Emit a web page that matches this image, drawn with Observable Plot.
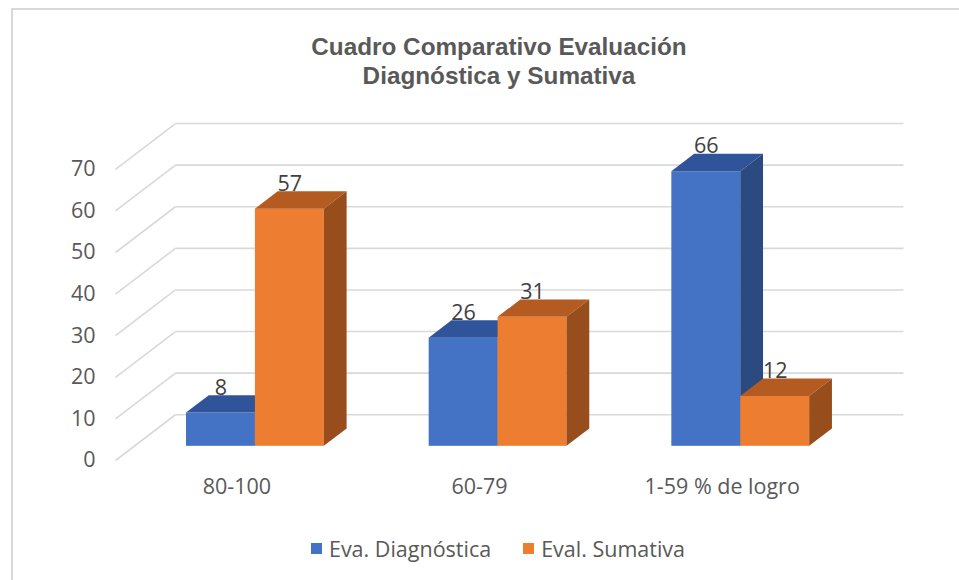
<!DOCTYPE html>
<html>
<head>
<meta charset="utf-8">
<script src="https://cdn.jsdelivr.net/npm/d3@7"></script>
<script src="https://cdn.jsdelivr.net/npm/@observablehq/plot@0.6"></script>
<style>
  body { margin: 0; background: #fff; }
  #wrap { position: relative; width: 959px; height: 580px; overflow: hidden; background: #fff; font-family: "Open Sans", sans-serif; }
  #frame { position: absolute; left: 11px; top: 8px; right: -10px; bottom: -10px; border-top: 2px solid #d9d9d9; border-left: 2px solid #d9d9d9; }
  #title { position: absolute; left: 40px; width: 918px; top: 32px; text-align: center; font-family: "Liberation Sans", Arial, sans-serif; font-weight: bold; font-size: 24.3px; line-height: 29px; color: #595959; }
  #chart { position: absolute; left: 0; top: 110px; }
  #legend { position: absolute; left: 0; width: 996px; top: 534px; height: 28px; display: flex; justify-content: center; align-items: center; gap: 32px; font-size: 21.5px; color: #595959; }
  .item { display: flex; align-items: center; gap: 7px; }
  .sw { width: 11px; height: 11px; display: inline-block; }
</style>
</head>
<body>
<div id="wrap">
  <div id="frame"></div>
  <div id="title">Cuadro Comparativo Evaluación<br>Diagnóstica y Sumativa</div>
  <div id="chart"></div>
  <div id="legend"></div>
</div>
<script>
// ---- data ----
const categories = ["80-100", "60-79", "1-59 % de logro"];
const seriesNames = ["Eva. Diagnóstica", "Eval. Sumativa"];
const diagnostica = [8, 26, 66];
const sumativa = [57, 31, 12];
const yTicks = [0, 10, 20, 30, 40, 50, 60, 70];

// ---- styling ----
const frontColors = ["#4472C4", "#ED7D31"];
const topColors = ["#30549A", "#B35B20"];
const sideColors = ["#2A4A80", "#984D1C"];

// 3D projection: full depth offset in data units (x in category units, y in value units)
const DX = 0.247, DY = 11.0;
const D0 = 0.31, D1 = 0.69;   // bar front / back depth fractions
const BW = 0.284;             // bar width in category units

const seriesValues = [diagnostica, sumativa];
const bars = [];
categories.forEach((c, i) => {
  seriesValues.forEach((vals, j) => {
    const xl = j === 0 ? i - BW : i;
    const xr = j === 0 ? i : i + BW;
    bars.push({cat: c, i, j, v: vals[i], xl, xr});
  });
});

const barMarks = bars.flatMap(b => {
  const front = Plot.rect([b], {
    x1: d => d.xl + D0 * DX, x2: d => d.xr + D0 * DX,
    y1: d => D0 * DY, y2: d => d.v + D0 * DY,
    fill: frontColors[b.j]
  });
  const topPts = [
    {x: b.xl + D0 * DX, y1: b.v + D0 * DY, y2: b.v + D0 * DY},
    {x: b.xl + D1 * DX, y1: b.v + D0 * DY, y2: b.v + D1 * DY},
    {x: b.xr + D0 * DX, y1: b.v + D0 * DY, y2: b.v + D1 * DY},
    {x: b.xr + D1 * DX, y1: b.v + D1 * DY, y2: b.v + D1 * DY}
  ];
  const top = Plot.areaY(topPts, {x: "x", y1: "y1", y2: "y2", fill: topColors[b.j]});
  const sidePts = [
    {x: b.xr + D0 * DX, y1: D0 * DY, y2: b.v + D0 * DY},
    {x: b.xr + D1 * DX, y1: D1 * DY, y2: b.v + D1 * DY}
  ];
  const side = Plot.areaY(sidePts, {x: "x", y1: "y1", y2: "y2", fill: sideColors[b.j]});
  return [front, top, side];
});

const chart = Plot.plot({
  width: 959,
  height: 420,
  marginLeft: 115,
  marginRight: 116,
  marginTop: 58.8,
  marginBottom: 70,
  style: {fontSize: "21.5px", fontFamily: "'Open Sans', sans-serif", color: "#595959", background: "transparent"},
  x: {type: "linear", domain: [-0.5, 2.5], ticks: [0, 1, 2], tickFormat: i => categories[i], tickSize: 0, tickPadding: 18, label: null},
  y: {domain: [0, 70], ticks: yTicks, tickSize: 0, tickPadding: 20, label: null},
  marks: [
    // back wall gridlines
    Plot.link(yTicks, {x1: () => -0.5 + DX, x2: () => 2.5 + DX, y1: v => v + DY, y2: v => v + DY, stroke: "#d9d9d9", strokeWidth: 1.6}),
    // side wall diagonals
    Plot.link(yTicks, {x1: () => -0.5, x2: () => -0.5 + DX, y1: v => v, y2: v => v + DY, stroke: "#d9d9d9", strokeWidth: 1.6}),
    ...barMarks,
    Plot.text(bars, {
      x: d => (d.xl + d.xr) / 2 + D0 * DX,
      y: d => d.v + D1 * DY,
      text: d => String(d.v),
      dy: -8,
      fill: "#404040",
      fontSize: 21.5
    })
  ]
});
document.getElementById("chart").appendChild(chart);

const legend = document.getElementById("legend");
seriesNames.forEach((name, j) => {
  const item = document.createElement("div");
  item.className = "item";
  const sw = document.createElement("span");
  sw.className = "sw";
  sw.style.background = frontColors[j];
  const t = document.createElement("span");
  t.textContent = name;
  item.appendChild(sw);
  item.appendChild(t);
  legend.appendChild(item);
});
</script>
</body>
</html>
